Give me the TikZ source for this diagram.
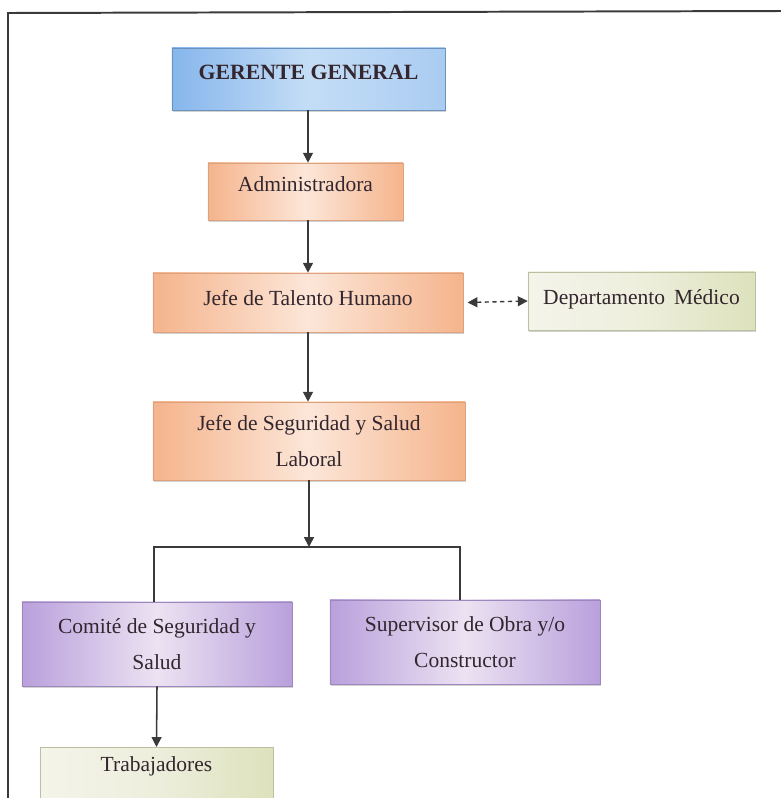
\documentclass[tikz,border=0pt]{standalone}
\usepackage{fontspec}
\setmainfont{Liberation Serif}
\usetikzlibrary{arrows.meta,shadows}
\definecolor{txt}{HTML}{33262E}
\definecolor{ln}{HTML}{3A3A3A}
\definecolor{blueA}{HTML}{86B6EC}
\definecolor{blueB}{HTML}{C4DDF6}
\definecolor{orA}{HTML}{F5B48C}
\definecolor{orB}{HTML}{FCE6D8}
\definecolor{grA}{HTML}{DDE2BC}
\definecolor{grB}{HTML}{F4F4EA}
\definecolor{puA}{HTML}{B9A0DC}
\definecolor{puB}{HTML}{ECE2F2}
\tikzset{
  box/.style={rectangle, inner sep=2pt, align=center, text=txt,
    font=\fontsize{15.3}{26}\selectfont,
    drop shadow={opacity=0.35, shadow xshift=0.6pt, shadow yshift=-1.2pt}},
  bluebox/.style={box, draw=blueA!80!black, line width=0.4pt, left color=blueA, right color=blueA!70, middle color=blueB,
    font=\fontsize{15.5}{26}\selectfont\bfseries},
  orbox/.style={box, draw=orA!90!black, line width=0.4pt, left color=orA, right color=orA, middle color=orB},
  grbox/.style={box, draw=grA!85!black, line width=0.4pt, left color=grB, right color=grA, middle color=grB!70!grA},
  pubox/.style={box, draw=puA!85!black, line width=0.4pt, left color=puA, right color=puA, middle color=puB},
  conn/.style={draw=ln, line width=1.1pt},
  arr/.style={conn, -{Triangle[length=7pt,width=7pt]}},
  darr/.style={draw=ln, line width=1pt, dash pattern=on 3pt off 2.5pt,
    {Triangle[length=7pt,width=7pt]}-{Triangle[length=7pt,width=7pt]}}
}
\begin{document}
\begin{tikzpicture}[x=0.025cm, y=-0.025cm]
\useasboundingbox (0,0) rectangle (781,798);
\clip (0,0) rectangle (781,798);
\fill[white] (0,0) rectangle (781,798);
% frame
\draw[ln, line width=1.4pt] (8,798) -- (8,13) -- (781,11);

\node[bluebox, minimum width=6.825cm, minimum height=1.55cm, text depth=9pt] (gg) at (308.5,79) {GERENTE GENERAL};
\node[orbox, minimum width=4.875cm, minimum height=1.425cm, text depth=10pt] (adm) at (305.5,191.5) {Administradora};
\node[orbox, minimum width=7.75cm, minimum height=1.475cm, text depth=7pt] (jth) at (308,302.5) {Jefe de Talento Humano};
\node[grbox, minimum width=5.675cm, minimum height=1.45cm, text depth=5pt] (dep) at (641.5,301) {Departamento\, Médico};
\node[orbox, minimum width=7.8cm, minimum height=1.95cm] (jss) at (309,441) {Jefe de Seguridad y Salud\\Laboral};
\node[pubox, minimum width=6.75cm, minimum height=2.1cm] (com) at (157,644) {Comité de Seguridad y\\Salud};
\node[pubox, minimum width=6.75cm, minimum height=2.1cm] (sup) at (465,642) {Supervisor de Obra y/o\\Constructor};
\node[grbox, minimum width=5.825cm, minimum height=1.75cm, anchor=north] (trab) at (156.5,747) {};
\node[text=txt, font=\fontsize{15.3}{26}\selectfont] (trabt) at (156.5,766) {Trabajadores};

\coordinate (bar) at (309,547);
\path[arr] (gg.south -| 308,0) -- (adm.north -| 308,0);
\path[arr] (adm.south -| 308,0) -- (jth.north -| 308,0);
\path[arr] (jth.south -| 308,0) -- (jss.north -| 308,0);
\path[darr] ([xshift=3pt]jth.east) -- (dep.west);
\path[arr] (jss.south) -- (bar);
\path[conn] (com.north -| 154,0) |- (bar) -| (sup.north -| 460,0);
\path[arr] (com.south) -- (trab.north);
\end{tikzpicture}
\end{document}
